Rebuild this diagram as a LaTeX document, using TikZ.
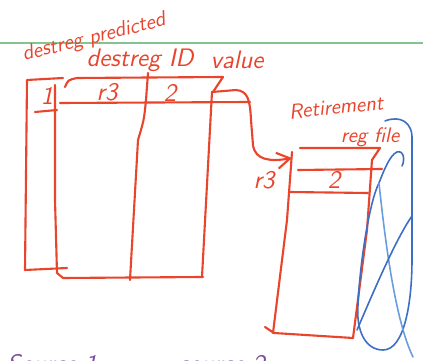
\documentclass[tikz,border=0pt]{standalone}
\usepackage{xcolor}
\usepackage{tikz}
\usetikzlibrary{arrows.meta}
\definecolor{sketchred}{HTML}{E8452C}
\definecolor{sketchblue}{HTML}{3B6EC4}
\definecolor{sketchlightblue}{HTML}{6A9CE0}
\definecolor{sketchgreen}{HTML}{86C48F}
\definecolor{sketchpurple}{HTML}{7C4D9E}
\begin{document}
\begin{tikzpicture}[x=0.02cm,y=-0.02cm,
  font=\sffamily\itshape\Large,
  pen/.style={draw=sketchred,line width=1.2pt,line cap=round,line join=round},
  bluepen/.style={draw=sketchblue,line width=0.9pt,line cap=round},
  lbl/.style={text=sketchred,inner sep=0pt},
  arr/.style={pen,-{Straight Barb[length=2.6mm,width=3.2mm]}}
]
\useasboundingbox (0,0) rectangle (423,361);
\clip (0,0) rectangle (423,361);
\fill[white] (0,0) rectangle (423,361);
\draw[sketchgreen,line width=0.8pt] (0,43) -- (423,43);
% headings
\node[lbl,rotate=14,font=\sffamily\itshape\large] (predhead) at (94,38) {destreg predicted};
\node[lbl] (idhead) at (140,60) {destreg ID};
\node[lbl] (valhead) at (237,60) {value};
% predicted column
\draw[pen] (63,78) -- (27,80) -- (25,270) -- (67,268);
\draw[pen] (35,112) -- (57,110);
\node[lbl] (predbit) at (47,96) {1};
% table
\draw[pen] (55,85) -- (55,200) -- (57,273) -- (63,278) -- (203,277);
\draw[pen] (65,87) .. controls (68,80) .. (77,78) -- (223,77) -- (213,92);
\draw[pen] (60,103) -- (250,102);
\draw[pen] (148,73) -- (146,100) .. controls (144,120) .. (138,140) -- (130,280);
\draw[pen] (212,92) -- (202,277);
\node[lbl] (destid) at (107,92) {r3};
\node[lbl] (destval) at (170,93) {2};
% retirement register file
\node[lbl,rotate=6,font=\sffamily\itshape\large] (rflabel) at (336,107) {Retirement};
\node[lbl,font=\sffamily\itshape\large] (rfreg) at (370,137) {reg file};
\draw[pen] (300,148) -- (380,148) -- (372,160) -- (367,230) -- (353,338);
\draw[pen] (292,152) -- (287,220) -- (273,333);
\draw[pen] (265,327) -- (274,333) -- (353,338);
\draw[pen] (298,170) -- (382,169);
\draw[pen] (290,192) -- (368,193);
\node[lbl] (rfval) at (334,180) {2};
% value to register file
\coordinate (valsrc) at (212,92);
\coordinate (rfentry) at (292,158);
\draw[arr] (valsrc) -- (236,90) .. controls (248,91) and (250,100) .. (251,120) -- (253,145) .. controls (255,160) and (270,162) .. (rfentry);
\node[lbl] (rfreg3) at (264,180) {r3};
% scribble
\draw[bluepen] (385,121) .. controls (400,115) and (413,122) .. (412,140) -- (412,260) .. controls (412,300) and (405,350) .. (383,350) .. controls (365,350) and (356,330) .. (358,305) .. controls (360,260) and (370,200) .. (379,183) .. controls (384,170) and (390,155) .. (397,152) .. controls (404,150) and (405,160) .. (402,166);
\draw[bluepen,draw=sketchlightblue] (379,183) .. controls (385,240) and (395,320) .. (413,357);
\draw[bluepen] (412,216) .. controls (395,240) and (370,300) .. (357,330);
% sources
\node[text=sketchpurple] (srcone) at (52,364) {Source 1};
\node[text=sketchpurple] (srctwo) at (222,364) {source 2};
\end{tikzpicture}
\end{document}
